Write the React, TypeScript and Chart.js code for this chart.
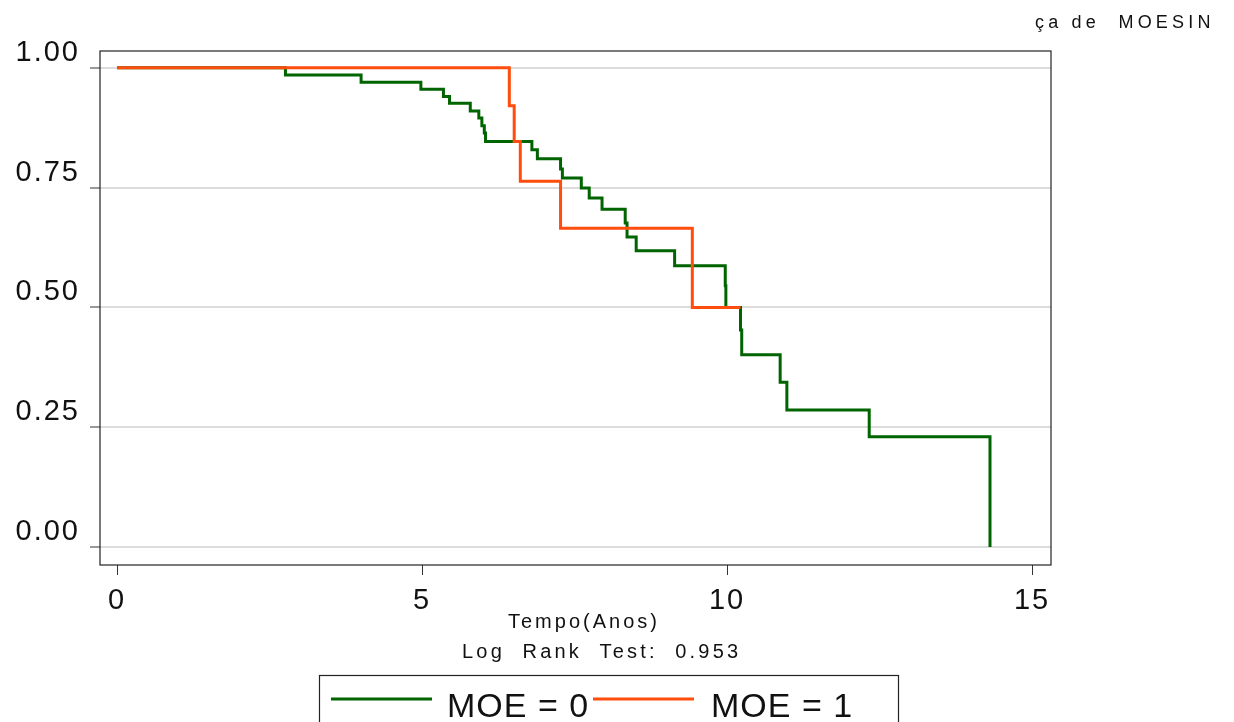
import React, { useEffect, useRef } from "react";
import { Chart, registerables } from "chart.js";

Chart.register(...registerables);

// MOE = 0 (green) Kaplan-Meier steps
const timesMoe0 = [0, 2.76, 4.0, 4.98, 5.35, 5.45, 5.79, 5.93, 5.98, 6.02, 6.04, 6.8, 6.89, 7.27, 7.3, 7.61, 7.74, 7.95, 8.33, 8.36, 8.51, 9.14, 9.97, 9.98, 10.22, 10.24, 10.87, 10.98, 12.33, 14.31];
const survMoe0 = [1, 0.985, 0.97, 0.955, 0.94, 0.926, 0.91, 0.895, 0.879, 0.864, 0.846, 0.829, 0.81, 0.789, 0.77, 0.749, 0.728, 0.705, 0.676, 0.647, 0.618, 0.587, 0.545, 0.5, 0.453, 0.401, 0.344, 0.286, 0.23, 0];
// MOE = 1 (orange)
const timesMoe1 = [0, 6.43, 6.51, 6.61, 7.27, 9.43, 10.22];
const survMoe1 = [1, 0.921, 0.846, 0.763, 0.665, 0.5, 0.5];

const xTicks = [0, 5, 10, 15];
const yTicks = [0, 0.25, 0.5, 0.75, 1];
const seriesLabels = ["MOE = 0", "MOE = 1"];
const seriesColors = ["#006400", "#FF4D0D"];
const titleText = "ça de  MOESIN";
const xAxisTitle = "Tempo(Anos)";
const testText = "Log  Rank  Test:  0.953";

const FONT = "'Liberation Sans', Arial, Helvetica, sans-serif";

export default function App() {
  const ref = useRef<HTMLCanvasElement | null>(null);
  useEffect(() => {
    if (!ref.current) return;
    const toPts = (t: number[], s: number[]) => t.map((x, i) => ({ x, y: s[i] }));
    const decor = {
      id: "decor",
      beforeDraw(chart: any) {
        const ctx = chart.ctx;
        ctx.save();
        ctx.fillStyle = "#ffffff";
        ctx.fillRect(0, 0, chart.width, chart.height);
        ctx.restore();
        (ctx as any).letterSpacing = "2px";
      },
      afterDraw(chart: any) {
        const ctx = chart.ctx as any;
        const a = chart.chartArea;
        ctx.save();
        ctx.letterSpacing = "0px";
        ctx.strokeStyle = "#222";
        ctx.lineWidth = 1.2;
        ctx.strokeRect(a.left, a.top, a.right - a.left, a.bottom - a.top);
        ctx.fillStyle = "#111";
        // title
        ctx.letterSpacing = "4.2px";
        ctx.font = `18px ${FONT}`;
        ctx.textAlign = "left";
        ctx.textBaseline = "alphabetic";
        ctx.fillText(titleText, 1035, 28);
        // x axis title
        ctx.font = `20px ${FONT}`;
        ctx.letterSpacing = "3px";
        ctx.textAlign = "left";
        ctx.fillText(xAxisTitle, 508, 628);
        ctx.letterSpacing = "3.2px";
        ctx.fillText(testText, 462, 658);
        // legend
        ctx.letterSpacing = "0px";
        ctx.strokeStyle = "#222";
        ctx.lineWidth = 1.2;
        ctx.strokeRect(319.5, 675.5, 579, 80);
        const lx = [331, 593];
        const tx = [447, 711];
        ctx.font = `34px ${FONT}`;
        ctx.textAlign = "left";
        ctx.textBaseline = "alphabetic";
        ctx.letterSpacing = "1px";
        for (let i = 0; i < 2; i++) {
          ctx.strokeStyle = seriesColors[i];
          ctx.lineWidth = 3;
          ctx.beginPath();
          ctx.moveTo(lx[i], 699);
          ctx.lineTo(lx[i] + 101, 699);
          ctx.stroke();
          ctx.fillStyle = "#111";
          ctx.fillText(seriesLabels[i], tx[i], 717);
        }
        ctx.restore();
      },
    };
    const chart = new Chart(ref.current, {
      type: "line",
      data: {
        datasets: [
          {
            label: seriesLabels[0],
            data: toPts(timesMoe0, survMoe0),
            borderColor: seriesColors[0],
            borderWidth: 3,
            stepped: "before",
            pointRadius: 0,
            fill: false,
            order: 2,
          },
          {
            label: seriesLabels[1],
            data: toPts(timesMoe1, survMoe1),
            borderColor: seriesColors[1],
            borderWidth: 3,
            stepped: "before",
            pointRadius: 0,
            fill: false,
            order: 1,
          },
        ],
      },
      options: {
        responsive: false,
        animation: false,
        layout: { padding: { left: 0, right: 183, top: 51, bottom: 0 } },
        plugins: { legend: { display: false }, tooltip: { enabled: false }, title: { display: false } },
        scales: {
          x: {
            type: "linear",
            min: -0.28,
            max: 15.31,
            afterBuildTicks: (s: any) => { s.ticks = xTicks.map((v) => ({ value: v })); },
            afterFit: (s: any) => { s.height = 157; },
            grid: { drawOnChartArea: false, drawTicks: true, tickLength: 10, tickColor: "#333", tickWidth: 1 },
            border: { display: false },
            ticks: { color: "#111", font: { family: FONT, size: 29 }, padding: 9, maxRotation: 0, autoSkip: false },
          },
          y: {
            type: "linear",
            min: -0.0376,
            max: 1.035,
            afterBuildTicks: (s: any) => { s.ticks = yTicks.map((v) => ({ value: v })); },
            afterFit: (s: any) => { s.width = 100; },
            grid: { color: "#dcdcdc", lineWidth: 2, drawTicks: true, tickLength: 10, tickColor: "#333", tickWidth: 1 },
            border: { display: false },
            ticks: {
              color: "#111",
              font: { family: FONT, size: 29 },
              padding: 10,
              labelOffset: -15,
              callback: (v: any) => Number(v).toFixed(2),
            },
          },
        },
      },
      plugins: [decor],
    } as any);
    return () => chart.destroy();
  }, []);
  return (
    <div style={{ position: "fixed", left: 0, top: 0, width: 1234, height: 722, background: "#fff" }}>
      <canvas ref={ref} width={1234} height={722} style={{ display: "block" }} />
    </div>
  );
}
